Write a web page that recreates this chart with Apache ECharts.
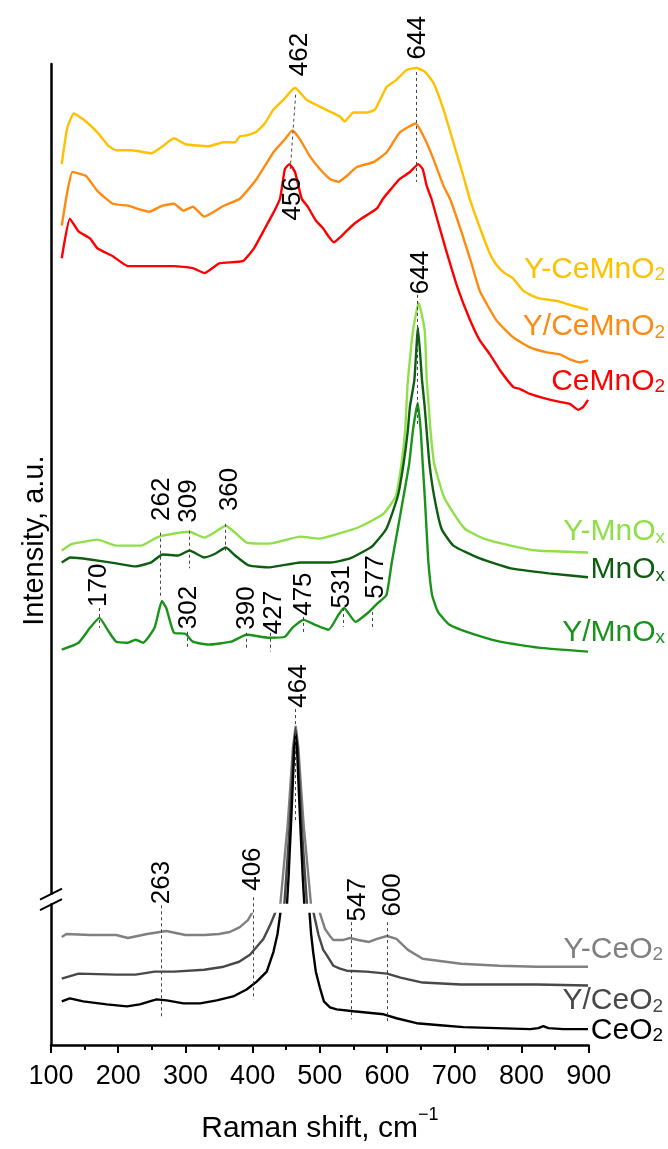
<!DOCTYPE html>
<html>
<head>
<meta charset="utf-8">
<script src="https://cdn.jsdelivr.net/npm/echarts@6/dist/echarts.min.js"></script>
<style>html,body{margin:0;padding:0;background:#fff}#c{width:668px;height:1149px}</style>
</head>
<body>
<div id="c"></div>
<script>
// ---------------- DATA (Raman shift, cm-1 ; intensity, a.u. with stacking offsets) ----------------
const xTicks = [100, 200, 300, 400, 500, 600, 700, 800, 900];

const Y_CeMnO2 = [[116,889],[124,925],[134,940],[152,932],[169,921],[186,907],[197,903],[220,903],[249,900],[266,907],[283,915],[300,909],[334,907],[357,911],[374,911],[381,917],[391,918],[406,922],[418,930],[431,944],[446,954],[463,966],[480,954],[500,947],[515,942],[530,937],[537,932],[550,941],[570,941],[582,944],[599.5,967],[614,974],[629,984],[644,986],[656.5,982],[669,971],[684,944],[698.6,911],[713.5,877],[723,854],[738,825],[752,800],[762,788],[775,779],[787,774],[803,761],[823,754],[852,751],[877,746],[899,742]];
const Y_slash_CeMnO2 = [[116,827],[124,860],[132,881],[152,877],[169,862],[192,849],[214.5,847],[246,841],[266,847],[283,849],[297,842],[311,846],[328,836],[357,847],[381,854],[406,874],[431,901],[448,914],[459,923],[470.5,914],[485,897],[500,884],[515,874],[527.5,871],[540,877],[555,886],[579.6,891],[599.5,901],[619,921],[642.6,930],[656.5,914],[669,894],[684,867],[693.6,854],[710,822],[725,790],[738,761],[763,731],[788,714],[812.7,704],[837.5,699],[857,697],[872,692],[887,689],[899,691]];
const CeMnO2 = [[116,794],[128,834],[141,821],[158,814],[169,804],[192,796],[214.5,786],[254,786],[283,786],[311,784],[328.5,779],[351,789],[385,791],[402,804],[419,825],[431,840],[440.7,854],[448,884],[454.6,889],[463,881],[473,854],[482,846],[494,832],[505,824],[513,816],[521,810],[530,815],[539,821],[550,828],[562,834],[584.5,844],[594,854],[606,864],[619,874],[634,881],[646.5,889],[653,884],[659,867],[666,854],[676,830],[687,804],[705,764],[722,734],[738,711],[753,697],[768,681],[788,664],[798,662],[812.7,657],[837.5,652],[857,649],[872,647],[884.6,641],[892,644],[899,651]];
const Y_MnOx = [[116,499],[129,505],[141,507],[169,510],[197,504],[234,504],[254,511],[266,514],[306,518],[328,512],[345,518],[360,524],[374,517],[391,507],[425,506],[471,513],[499,511],[527.5,516],[556,522],[580,530],[596,537],[613,554],[621.6,587],[627,621],[629.5,654],[631,671],[638.6,721],[647,749],[656,721],[659,671],[661,654],[664.5,621],[670,587],[684,554],[698.6,537],[715.7,521],[744,511],[784,504],[823,499],[899,497]];
const MnOx = [[116,487],[129,492],[158,490],[197,486],[226,483],[249,487],[266,495],[289,494],[306,499],[328,492],[345,496],[360,502],[374,494],[394,484],[425,482],[471,487],[516,487],[545,491],[573,501],[579,504],[599,521],[616,554],[624.6,587],[631,621],[634,644],[640.6,671],[646,724],[652,671],[656,644],[658.7,621],[663,587],[670,554],[681,521],[698.6,504],[738,491],[784,481],[840.5,476],[899,472]];
const Y_slash_MnOx = [[116,399],[141,406],[158,421],[172,431],[186,417],[197,407],[214.5,406],[226,409],[237,406],[254,421],[265,448],[271.5,441],[283,416],[300,415],[311,407],[334,404],[368,407],[391,414],[425,411],[448,412],[459,421],[476,429],[493,424],[513,419],[527.5,434],[536,441],[553,427],[573,437],[584.5,445],[599,454],[607,487],[616,521],[624.6,554],[633,587],[638.6,621],[645.6,648],[650,621],[653,587],[656,554],[658.7,521],[661.5,487],[667,454],[675.8,437],[693,424],[718.5,417],[768,407],[825,401],[899,397]];
const Y_CeO2 = [[116,109],[123,112],[158,111],[197,111],[214.5,108],[243,112],[271.5,115],[300,111],[328,111],[350,112],[366,114],[381,119],[393,126],[401,135.5],[441,140.5],[445,170],[449,200],[452,221],[456,260],[460,300],[464,322],[468,300],[472,260],[476,221],[479,200],[483,170],[487,140.5],[499,135.5],[507.7,117],[515,110],[520,106],[535,106],[545,108],[557,106],[565,105],[573,104],[585,107],[600,110],[614,107],[631,96],[653,87],[710,82],[767,80],[823,79],[899,79]];
const Y_slash_CeO2 = [[116,67],[141,72],[197,71],[226,71],[254,74],[283,74],[328,76],[357,79],[380,84],[396,91],[416,107],[426,121],[434.8,135.5],[447,140.5],[450,170],[453,200],[455,221],[458,260],[461,300],[464,318],[467,300],[470,260],[473,221],[475,200],[478,170],[481,140.5],[490,135.5],[498,111],[505,96],[510,91],[520,80],[530,77],[540,75],[569,74],[600,72],[620,68],[653,63],[710,61],[823,61],[899,60]];
const CeO2 = [[116,44],[128,47],[148,44],[183,41],[213,39],[232,41],[257,46],[272,45],[297,42],[322,42],[346.5,45],[371,49],[391,56],[406,64],[421,74],[431,94],[437,112],[441.7,135.5],[451,140.5],[453.5,170],[455.5,200],[457,221],[459.5,260],[462,300],[464,314],[466,300],[468.5,260],[471,221],[472.5,200],[474.5,170],[477,140.5],[484.4,135.5],[487,112],[490,94],[494,74],[500,58],[506,44],[515,38],[525,36],[550,34],[565,33],[595,31],[614,27],[644,22],[679,20],[713.5,18],[763,17],[813,16],[825,17],[832.5,19],[840,17],[862,16],[899,16]];

const seriesNames = ['Y-CeMnO2','Y/CeMnO2','CeMnO2','Y-MnOx','MnOx','Y/MnOx','Y-CeO2','Y/CeO2','CeO2'];
const seriesLabelMain = ['Y-CeMnO','Y/CeMnO','CeMnO','Y-MnO','MnO','Y/MnO','Y-CeO','Y/CeO','CeO'];
const seriesLabelSub  = ['2','2','2','x','x','x','2','2','2'];
const peakLabels = ['462','644','456','644','262','309','360','170','302','390','427','475','531','577','464','263','406','547','600'];
const yTitle = 'Intensity, a.u.';

// ---------------- LAYOUT / STYLE ----------------
const FONT = "'Liberation Sans', Arial, Helvetica, sans-serif";
const seriesData = [Y_CeMnO2, Y_slash_CeMnO2, CeMnO2, Y_MnOx, MnOx, Y_slash_MnOx, Y_CeO2, Y_slash_CeO2, CeO2];
const colors = ['#FFC000','#FF8A12','#FF0000','#8FDF48','#0E5E12','#1A931A','#808080','#484848','#000000'];
// label anchor: [right-edge x, baseline value] in data coordinates
const seriesLabelAnchor = [[1013.6,772.3],[1013.6,714],[1013.6,659],[1013.6,507.3],[1013.6,469],[1013.6,406],[1010.6,86],[1010.6,34],[1010.6,4]];
// dashed peak lines [x1,v1,x2,v2] and label centres [x,v]
const peakLineLayout = [[464,959,456,884],[643.5,982,643.5,871],null,[645,757,645,624],[263,517,263,451],[306,519,306,481],[358.6,526,358.6,497],[172,441,172,421],[302,417,302,401],[391,416,391,401],[426.5,416,426.5,397],[475,432,475,416],[534.6,441,534.6,422],[578,437,578,421],[464,339,464,224],[264.7,141,264.7,29],[401,149,401,46],[547.4,124,547.4,26],[600.7,124,600.7,21]];
const peakLabelLayout = [[470.5,999.5],[646,1016.5],[459.5,854],[650,779.5],[264.7,550.7],[305.8,549],[366.6,560.7],[171.4,464],[305.8,441.5],[391.2,441],[431,436.5],[476.4,455],[533.4,462.3],[583,472.3],[468,362.3],[264.7,164],[400.5,177.5],[556.8,146.5],[608.5,151.5]];
const breakBand = [133.5, 142.5];   // y-range hidden by the axis break
const breakMarkV = 147;
const yTitleCenterV = 509;

const chart = echarts.init(document.getElementById('c'), null, {renderer: 'canvas'});

const series = seriesData.map((d, i) => ({
  name: seriesNames[i],
  type: 'line',
  data: d,
  symbol: 'none',
  showSymbol: false,
  smooth: i < 6 ? 0.15 : false,
  silent: true,
  lineStyle: {color: colors[i], width: 2.4},
  itemStyle: {color: colors[i]},
  z: 2
}));

series[8].markLine = {
  silent: true,
  symbol: ['none', 'none'],
  z: 6,
  label: {show: false},
  lineStyle: {color: '#444', width: 1, type: [3, 3]},
  data: peakLineLayout.filter(l => l).map(l => [{coord: [l[0], l[1]]}, {coord: [l[2], l[3]]}])
};

const option = {
  animation: false,
  backgroundColor: '#fff',
  grid: {left: 51, right: 79.3, top: 64, bottom: 95, containLabel: false},
  xAxis: {
    type: 'value',
    min: xTicks[0], max: xTicks[xTicks.length - 1], interval: 100,
    name: '{a|Raman shift, cm}{b|\u22121}',
    nameLocation: 'middle',
    nameGap: 61,
    nameTextStyle: {
      rich: {
        a: {fontFamily: FONT, fontSize: 30, color: '#000', lineHeight: 38, verticalAlign: 'bottom'},
        b: {fontFamily: FONT, fontSize: 18, color: '#000', lineHeight: 18, verticalAlign: 'top'}
      }
    },
    axisLine: {show: true, onZero: false, lineStyle: {color: '#000', width: 2.5}},
    axisTick: {show: true, inside: false, length: 8, lineStyle: {color: '#000', width: 2}},
    minorTick: {show: true, splitNumber: 2, length: 5, lineStyle: {color: '#000', width: 2}},
    axisLabel: {fontFamily: FONT, fontSize: 27, color: '#000', margin: 18,
      formatter: v => (xTicks.indexOf(v) >= 0 ? String(v) : '')},
    splitLine: {show: false}
  },
  yAxis: {
    type: 'value',
    min: 0, max: 990,
    axisLine: {show: true, onZero: false, lineStyle: {color: '#000', width: 2.5}},
    axisTick: {show: false},
    axisLabel: {show: false},
    splitLine: {show: false}
  },
  series: series
};

chart.setOption(option);

// ---------- decorations positioned through the chart's own scales ----------
const P = (x, v) => chart.convertToPixel({gridIndex: 0}, [x, v]);
const graphics = [];

// y-axis title
const yt = P(100, yTitleCenterV);
graphics.push({type: 'text', z: 10, silent: true, x: yt[0] - 16, y: yt[1], rotation: Math.PI / 2,
  style: {text: yTitle, fill: '#000', fontFamily: FONT, fontSize: 29, align: 'center', verticalAlign: 'middle'}});

// axis-break white band
const b1 = P(103, breakBand[1]), b2 = P(900, breakBand[0]);
graphics.push({type: 'rect', z: 4, silent: true,
  shape: {x: b1[0], y: b1[1], width: b2[0] - b1[0], height: b2[1] - b1[1]},
  style: {fill: '#fff'}});

// "//" break mark on the y axis
const am = P(100, breakMarkV);
graphics.push({type: 'rect', z: 9, silent: true,
  shape: {x: am[0] - 3, y: am[1] - 4.5, width: 6, height: 8.5}, style: {fill: '#fff'}});
[-5.25, 5.25].forEach(dy => {
  graphics.push({type: 'line', z: 10, silent: true,
    shape: {x1: am[0] - 11, y1: am[1] + dy + 5.5, x2: am[0] + 11, y2: am[1] + dy - 5.5},
    style: {stroke: '#000', lineWidth: 2}});
});

// series labels
seriesLabelAnchor.forEach((a, i) => {
  const p = P(a[0], a[1]);
  graphics.push({type: 'text', z: 10, silent: true, x: p[0], y: p[1] - 10.4,
    style: {
      text: '{m|' + seriesLabelMain[i] + '}{s|' + seriesLabelSub[i] + '}',
      fill: colors[i], align: 'right', verticalAlign: 'middle',
      fontFamily: FONT, fontSize: 30,
      rich: {
        m: {fontFamily: FONT, fontSize: 30, lineHeight: 30, verticalAlign: 'middle', fill: colors[i]},
        s: {fontFamily: FONT, fontSize: 19, lineHeight: 19, verticalAlign: 'bottom', fill: colors[i]}
      }
    }});
});

// rotated peak labels
peakLabels.forEach((t, i) => {
  const p = P(peakLabelLayout[i][0], peakLabelLayout[i][1]);
  graphics.push({type: 'text', z: 10, silent: true, x: p[0], y: p[1], rotation: Math.PI / 2,
    style: {text: t, fill: '#000', fontFamily: FONT, fontSize: 26, align: 'center', verticalAlign: 'middle'}});
});

chart.setOption({graphic: {elements: graphics}});
</script>
</body>
</html>
